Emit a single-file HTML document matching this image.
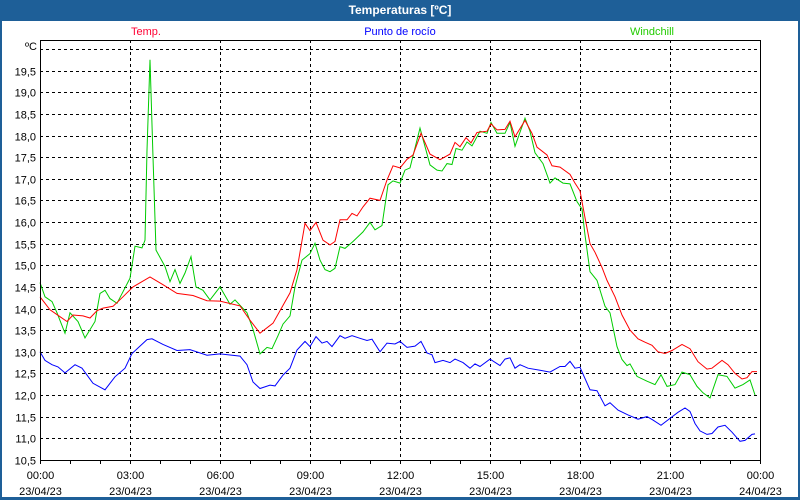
<!DOCTYPE html>
<html><head><meta charset="utf-8"><style>
body{margin:0;background:#fff;}
svg{display:block;font-family:"Liberation Sans",sans-serif;}
</style></head><body>
<svg id="chart" width="800" height="500" viewBox="0 0 800 500" xmlns="http://www.w3.org/2000/svg">
<rect x="0" y="0" width="800" height="500" fill="#1e5f98"/>
<rect x="2" y="21" width="796" height="476" fill="#fff"/>
<text x="400" y="14" fill="#fff" font-size="12" font-weight="bold" text-anchor="middle">Temperaturas [ºC]</text>
<text x="146" y="35" fill="#ff0033" font-size="11" text-anchor="middle">Temp.</text>
<text x="400" y="35" fill="#0000ff" font-size="11" text-anchor="middle">Punto de rocío</text>
<text x="652" y="35" fill="#22cc00" font-size="11" text-anchor="middle">Windchill</text>
<text x="37" y="50" fill="#000" font-size="11" text-anchor="end">ºC</text>
<g id="grid"></g>
<g id="series"></g>
<g id="axes"></g>
</svg>
<script>
const yTicks = [10.5,11.0,11.5,12.0,12.5,13.0,13.5,14.0,14.5,15.0,15.5,16.0,16.5,17.0,17.5,18.0,18.5,19.0,19.5,20.0];
const xTickHours = [0,3,6,9,12,15,18,21,24];
const xTimeLabels = ["00:00","03:00","06:00","09:00","12:00","15:00","18:00","21:00","00:00"];
const xDateLabels = ["23/04/23","23/04/23","23/04/23","23/04/23","23/04/23","23/04/23","23/04/23","23/04/23","24/04/23"];

const tempMinutes = [0,20,40,54,66,86,100,114,126,146,166,186,220,246,274,306,334,360,400,420,440,466,500,514,530,540,552,566,580,590,600,614,624,634,646,660,680,694,706,720,734,746,762,780,800,820,830,840,852,862,874,894,902,914,930,940,950,970,984,994,1014,1024,1040,1060,1070,1080,1090,1100,1110,1124,1134,1150,1164,1180,1196,1210,1224,1236,1250,1264,1284,1300,1316,1334,1344,1364,1376,1390,1404,1414,1424,1434];
const tempValues = [14.27,13.97,13.81,13.7,13.85,13.83,13.78,13.95,14.01,14.05,14.27,14.5,14.73,14.55,14.35,14.3,14.18,14.17,14.06,13.73,13.43,13.66,14.36,14.9,15.97,15.8,15.99,15.58,15.47,15.55,16.05,16.05,16.2,16.14,16.35,16.55,16.5,16.97,17.3,17.25,17.45,17.55,18.05,17.57,17.44,17.57,17.84,17.74,17.95,17.83,18.07,18.1,18.27,18.13,18.14,18.33,17.97,18.35,18.05,17.73,17.55,17.3,17.27,17.1,16.9,16.72,16.1,15.5,15.3,14.95,14.65,14.27,13.85,13.5,13.3,13.22,13.15,13.0,12.96,13.03,13.17,13.07,12.77,12.6,12.62,12.8,12.7,12.5,12.37,12.4,12.54,12.54];

const dewMinutes = [0,10,24,36,50,70,84,106,130,150,170,184,214,224,246,274,300,334,360,400,414,426,440,460,470,486,500,514,530,540,552,564,574,584,600,610,624,640,654,664,680,694,710,720,734,750,762,774,784,790,806,820,830,846,860,870,880,900,920,930,940,950,960,976,1000,1020,1040,1050,1060,1070,1080,1100,1114,1130,1140,1156,1176,1196,1214,1226,1242,1260,1276,1290,1300,1310,1320,1334,1344,1356,1370,1384,1400,1410,1424,1430];
const dewValues = [13.0,12.8,12.7,12.65,12.51,12.7,12.62,12.27,12.12,12.42,12.62,12.96,13.28,13.3,13.17,13.03,13.05,12.92,12.95,12.9,12.7,12.3,12.15,12.23,12.21,12.46,12.62,13.04,13.24,13.12,13.35,13.2,13.24,13.12,13.37,13.31,13.37,13.31,13.26,13.29,13.0,13.2,13.18,13.24,13.1,13.13,13.24,12.97,12.93,12.75,12.8,12.75,12.83,12.75,12.62,12.72,12.66,12.83,12.68,12.83,12.86,12.62,12.7,12.62,12.57,12.53,12.66,12.66,12.78,12.62,12.64,12.12,12.1,11.75,11.82,11.65,11.54,11.44,11.5,11.42,11.3,11.46,11.6,11.7,11.62,11.34,11.17,11.09,11.11,11.26,11.3,11.14,10.93,10.95,11.09,11.1];

const windMinutes = [0,10,24,34,50,60,76,90,110,120,130,140,154,180,190,204,210,214,220,226,232,250,260,270,280,290,302,312,326,340,360,380,390,414,426,440,454,464,476,486,500,510,524,540,550,560,570,580,590,600,610,626,646,660,670,684,696,706,720,730,740,760,780,794,804,814,824,832,844,854,864,880,894,902,914,930,940,950,970,980,990,1006,1020,1030,1046,1060,1074,1084,1090,1100,1114,1130,1140,1154,1164,1174,1180,1194,1214,1230,1242,1254,1270,1284,1300,1314,1326,1340,1356,1374,1390,1406,1420,1430];
const windValues = [14.6,14.27,14.16,13.9,13.43,13.9,13.7,13.32,13.7,14.35,14.42,14.23,14.12,14.7,15.44,15.4,15.58,17.66,19.75,17.5,15.35,14.97,14.62,14.9,14.58,14.82,15.2,14.5,14.42,14.2,14.5,14.1,14.2,13.9,13.52,12.95,13.1,13.07,13.37,13.64,13.83,14.5,15.12,15.27,15.51,15.12,14.9,14.85,14.93,15.43,15.39,15.55,15.77,15.99,15.82,15.92,16.86,16.95,16.9,17.2,17.25,18.17,17.32,17.2,17.18,17.35,17.33,17.7,17.66,17.85,17.76,18.1,18.05,18.3,18.05,18.05,18.3,17.75,18.4,18.1,17.6,17.35,16.9,17.02,16.9,16.88,16.47,16.3,15.7,14.85,14.65,14.05,13.9,13.12,12.82,12.68,12.72,12.43,12.32,12.24,12.47,12.2,12.24,12.53,12.47,12.2,12.05,11.93,12.47,12.43,12.16,12.24,12.35,12.0];

const NS = "http://www.w3.org/2000/svg";
const plotL = 40, plotR = 760, plotT = 40, plotB = 460;
function xScale(hours){ return plotL + hours * (plotR - plotL) / 24; }
function xMin(m){ return xScale(m / 60); }
function yScale(v){ return 49 + (20 - v) * 43.25; }
function mk(tag, attrs, parent){ const e = document.createElementNS(NS, tag); for (const k in attrs) e.setAttribute(k, attrs[k]); parent.appendChild(e); return e; }

const grid = document.getElementById('grid');
const axes = document.getElementById('axes');
const series = document.getElementById('series');

yTicks.forEach(v => {
  const y = Math.round(yScale(v)) + 0.5;
  const ln = mk('line', {x1: plotL, x2: plotR, y1: y, y2: y, stroke: '#000', 'stroke-width': 1, 'stroke-dasharray': '3,3'}, grid);
  
  
  if (v < 20) {
    const t = mk('text', {x: 36, y: y + 4, 'font-size': 11, 'text-anchor': 'end', fill: '#000'}, axes);
    t.textContent = v.toFixed(1).replace('.', ',');
    
    
  }
});
xTickHours.forEach((h, i) => {
  const x = Math.round(xScale(h)) + 0.5;
  if (h > 0 && h < 24) {
    const ln = mk('line', {x1: x, x2: x, y1: plotT, y2: plotB, stroke: '#000', 'stroke-width': 1, 'stroke-dasharray': '3,3'}, grid);
    
    
  }
  const t1 = mk('text', {x: x, y: 479, 'font-size': 11, 'text-anchor': 'middle', fill: '#000'}, axes);
  t1.textContent = xTimeLabels[i];
  
  
  const t2 = mk('text', {x: x, y: 495, 'font-size': 11, 'text-anchor': 'middle', fill: '#000'}, axes);
  t2.textContent = xDateLabels[i];
  
  
});
for (let h = 0; h <= 24; h++) {
  const x = Math.round(xScale(h)) + 0.5;
  const tk = mk('line', {x1: x, x2: x, y1: plotB, y2: plotB + 4, stroke: '#000', 'stroke-width': 1}, axes);
  
  
}
const frame = mk('rect', {x: plotL + 0.5, y: plotT + 0.5, width: plotR - plotL, height: plotB - plotT, fill: 'none', stroke: '#000', 'stroke-width': 1}, axes);



function drawLine(mins, vals, color, name){
  const pts = mins.map((m, i) => xMin(m).toFixed(1) + ',' + yScale(vals[i]).toFixed(1)).join(' ');
  const p = mk('polyline', {points: pts, fill: 'none', stroke: color, 'stroke-width': 1, 'stroke-linejoin': 'miter'}, series);
  
  
}
drawLine(dewMinutes, dewValues, '#0000ff', 'dew-point-line');
drawLine(windMinutes, windValues, '#00cc00', 'windchill-line');
drawLine(tempMinutes, tempValues, '#ff0000', 'temp-line');
</script>
</body></html>
